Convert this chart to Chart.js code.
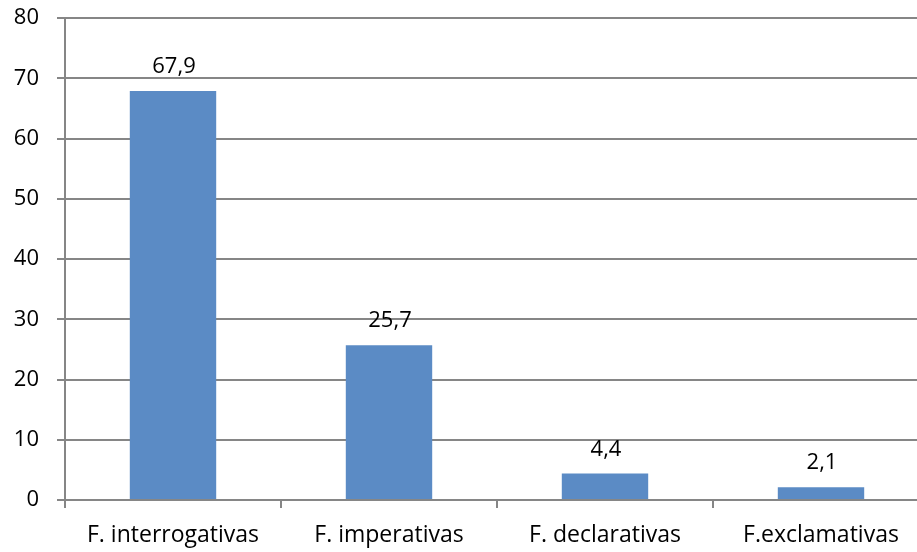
<!DOCTYPE html>
<html><head><meta charset="utf-8">
<script src="https://cdn.jsdelivr.net/npm/chart.js@4"></script>
<style>html,body{margin:0;padding:0;background:#fff;overflow:hidden}#o{width:917px;height:552px;overflow:hidden;position:relative}#w{position:absolute;left:0;top:-13px;width:929px;height:565px}</style>
</head><body><div id="o"><div id="w"><canvas id="c"></canvas></div></div>
<script>
const categories = ["F. interrogativas", "F. imperativas", "F. declarativas", "F.exclamativas"];
const values = [67.9, 25.7, 4.4, 2.1];
const yTicks = [0, 10, 20, 30, 40, 50, 60, 70, 80];

const FONT = '"Open Sans", sans-serif';
const labelPlugin = {
  id: 'vlabels',
  afterDatasetsDraw(chart) {
    const ctx = chart.ctx;
    const meta = chart.getDatasetMeta(0);
    ctx.save();
    ctx.font = '22px ' + FONT;
    ctx.fillStyle = '#000';
    ctx.textAlign = 'center';
    ctx.textBaseline = 'alphabetic';
    meta.data.forEach((el, i) => {
      ctx.fillText(values[i].toFixed(1).replace('.', ','), el.x + 1, el.y - 18);
    });
    ctx.restore();
  }
};

new Chart(document.getElementById('c'), {
  type: 'bar',
  data: { labels: categories, datasets: [{ data: values, backgroundColor: '#5B8BC5', borderWidth: 0, categoryPercentage: 0.8, barPercentage: 0.5 }] },
  options: {
    responsive: true, maintainAspectRatio: false, animation: false,
    layout: { padding: { top: 0, right: 0, left: 0, bottom: 0 } },
    plugins: { legend: { display: false }, tooltip: { enabled: false } },
    scales: {
      x: {
        offset: true,
        grid: { display: true, drawOnChartArea: false, drawTicks: true, tickLength: 8, offset: true, color: '#868686', lineWidth: 2 },
        border: { display: true, color: '#868686', width: 2 },
        ticks: { color: '#000', font: { family: FONT, size: 23 }, padding: 14 },
        afterFit(s) { s.height = 52; }
      },
      y: {
        min: 0, max: 80,
        afterBuildTicks(s) { s.ticks = yTicks.map(v => ({ value: v })); },
        grid: { color: '#868686', lineWidth: 2, tickLength: 8 },
        border: { display: true, color: '#868686', width: 2 },
        ticks: { color: '#000', font: { family: FONT, size: 22 }, padding: 18 },
        afterFit(s) { s.width = 65; }
      }
    }
  },
  plugins: [labelPlugin]
});
</script></body></html>
